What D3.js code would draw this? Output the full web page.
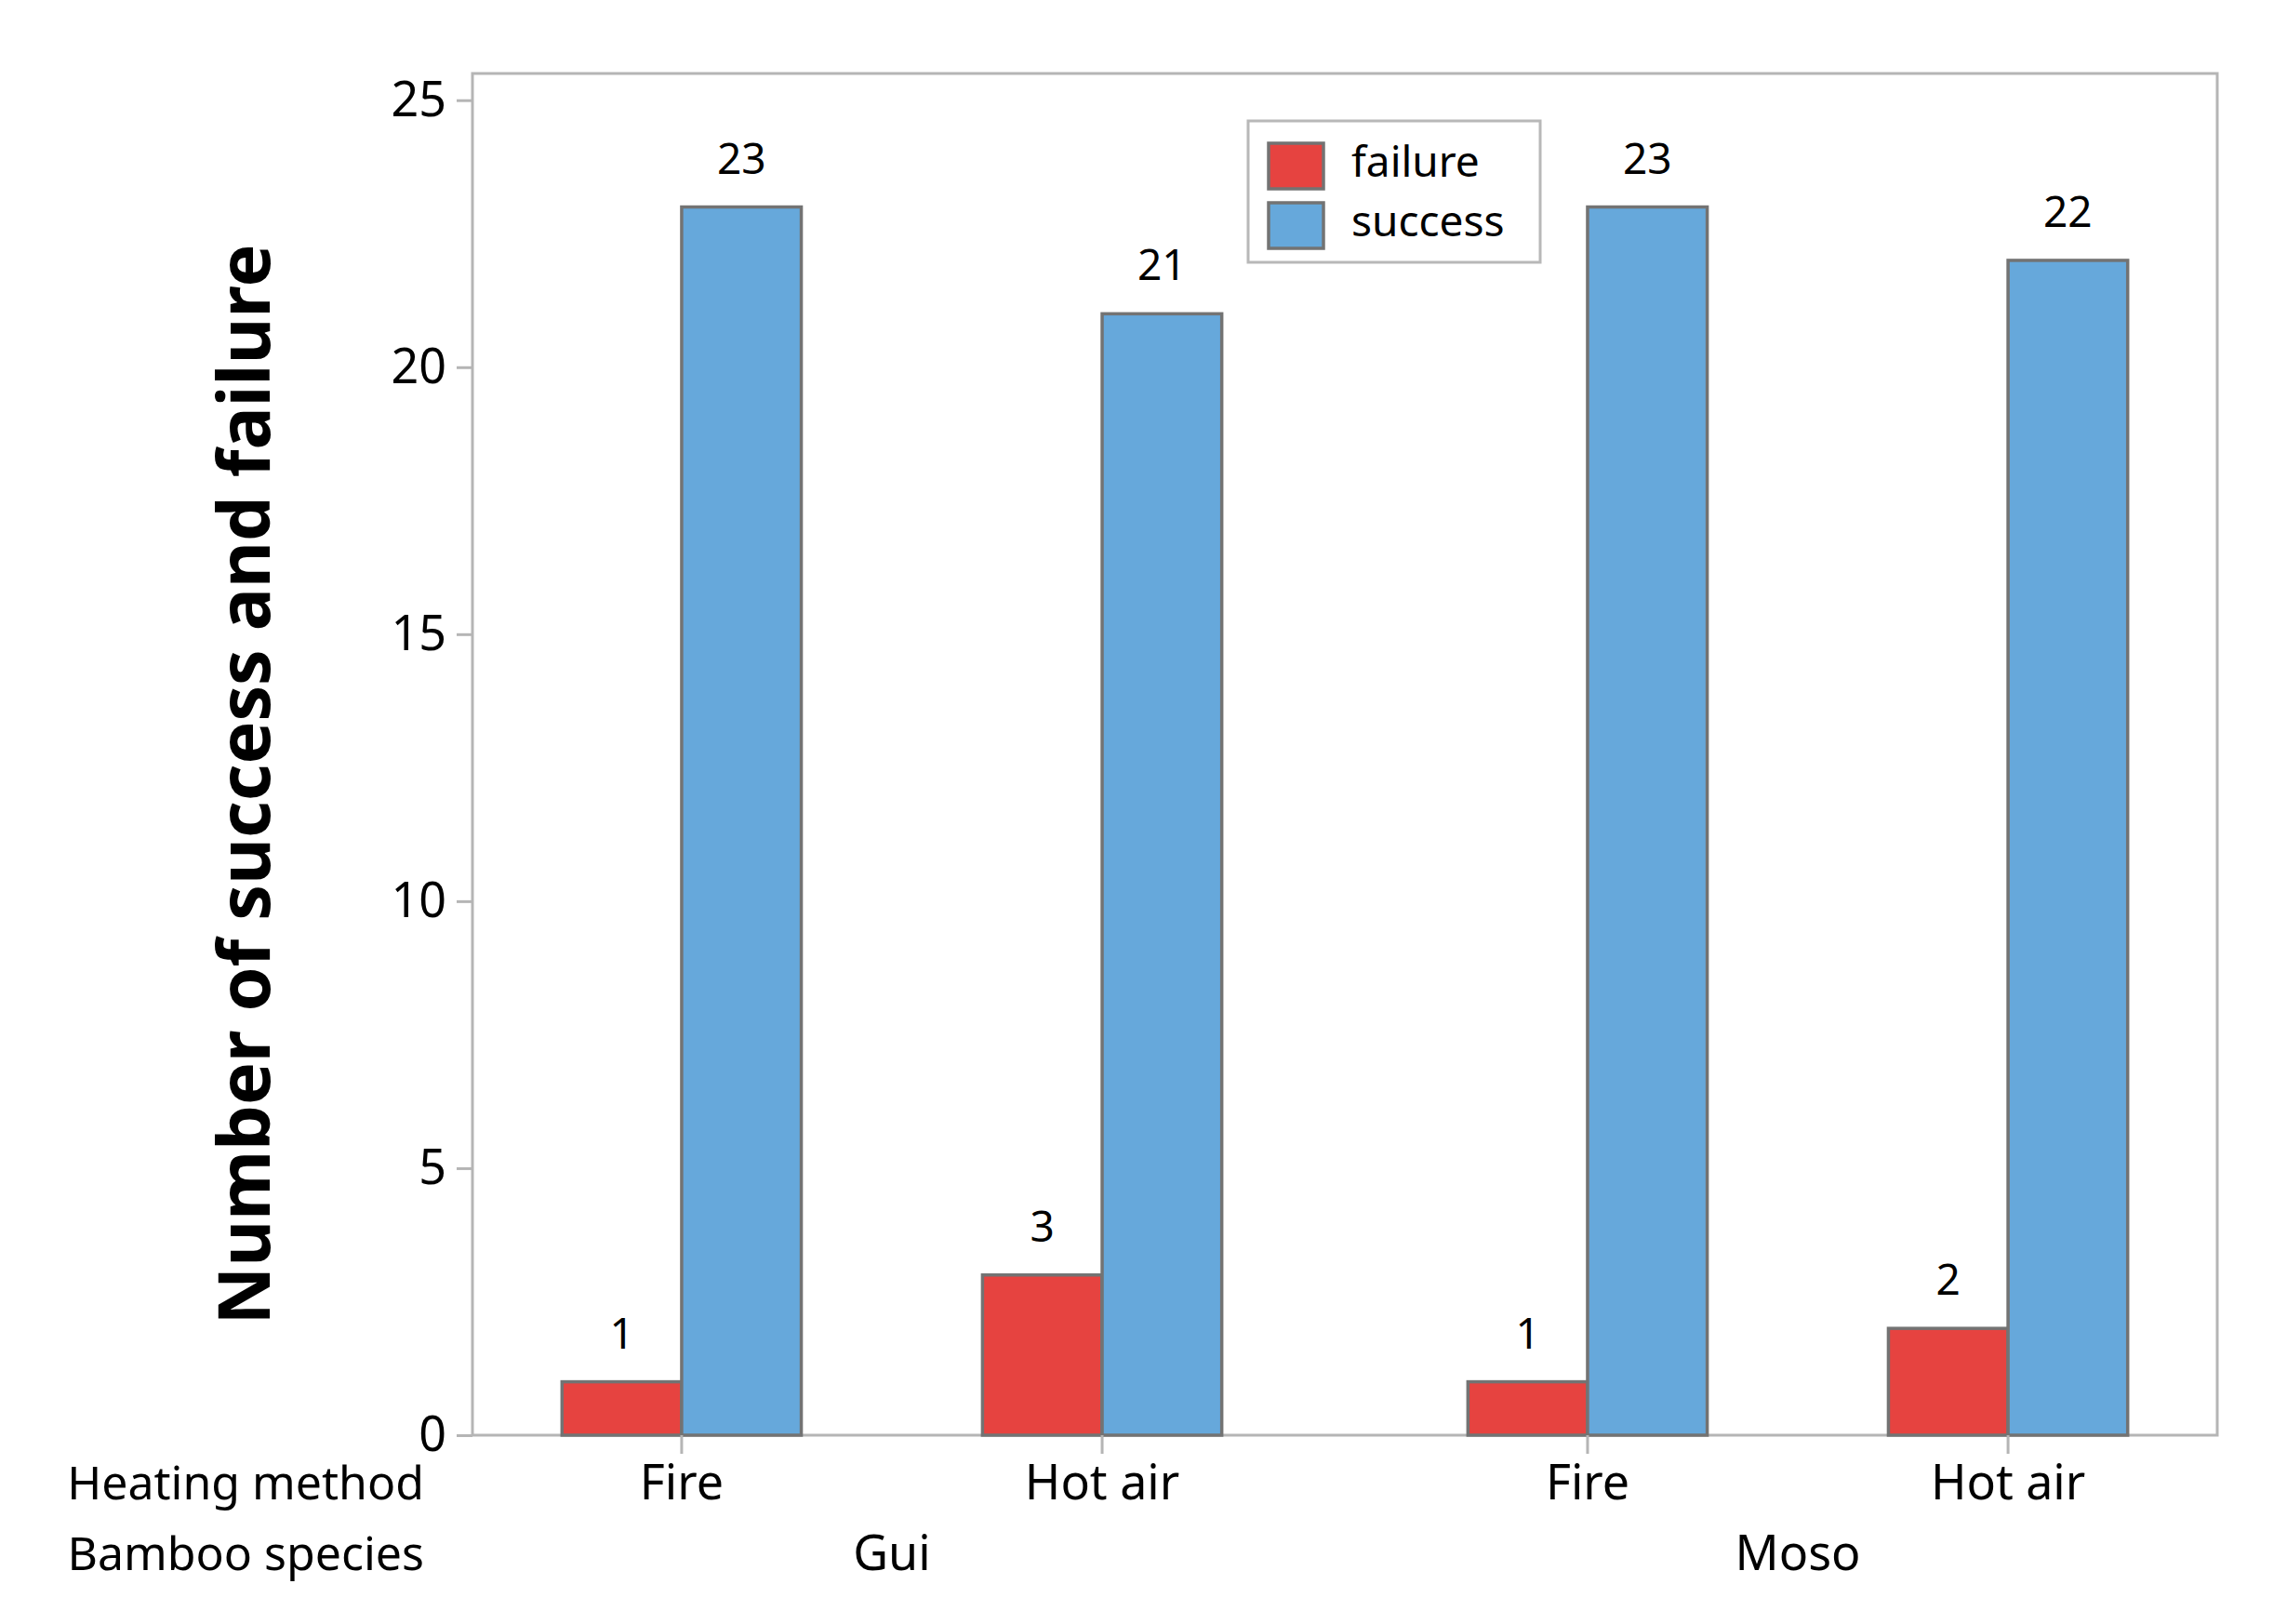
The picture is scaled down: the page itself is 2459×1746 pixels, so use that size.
<!DOCTYPE html>
<html>
<head>
<meta charset="utf-8">
<script src="https://cdn.jsdelivr.net/npm/d3@7"></script>
<style>
  body { margin: 0; background: #fff; }
  text { font-family: "Segoe UI", "Noto Sans", sans-serif; fill: #000; }
</style>
</head>
<body>
<svg id="chart"></svg>
<script>
// chart values
const species = ["Gui", "Moso"];
const methods = ["Fire", "Hot air"];
const seriesNames = ["failure", "success"];
const seriesColors = ["#e64340", "#66a8db"];
// order: Gui/Fire, Gui/Hot air, Moso/Fire, Moso/Hot air
const failureCounts = [1, 3, 1, 2];
const successCounts = [23, 21, 23, 22];
const yTicks = [0, 5, 10, 15, 20, 25];

const svgWidth = 2459, svgHeight = 1746;
const frame = { left: 508, right: 2384, top: 79, bottom: 1543 };

const svg = d3.select("#chart")
    .attr("width", svgWidth)
    .attr("height", svgHeight)
    .attr("viewBox", `0 0 ${svgWidth} ${svgHeight}`);

// build rows from the arrays
const rows = [];
species.forEach((sp, i) => {
    methods.forEach((m, j) => {
        const k = i * methods.length + j;
        rows.push({ species: sp, method: m, failure: failureCounts[k], success: successCounts[k] });
    });
});

// nested band scales: species -> method -> series
const xSpecies = d3.scaleBand()
    .domain(species)
    .range([frame.left, frame.right])
    .paddingInner(0.1)
    .paddingOuter(0.013);

const xMethod = d3.scaleBand()
    .domain(methods)
    .range([0, xSpecies.bandwidth()])
    .paddingInner(0.431)
    .paddingOuter(0.185);

const xSeries = d3.scaleBand()
    .domain(seriesNames)
    .range([0, xMethod.bandwidth()]);

const y = d3.scaleLinear()
    .domain([0, 25.5])
    .range([frame.bottom, frame.top]);

const color = d3.scaleOrdinal().domain(seriesNames).range(seriesColors);

// frame
svg.append("rect")
    .attr("x", frame.left)
    .attr("y", frame.top)
    .attr("width", frame.right - frame.left)
    .attr("height", frame.bottom - frame.top)
    .attr("fill", "none")
    .attr("stroke", "#b5b5b5")
    .attr("stroke-width", 3);

// y axis
const yAxis = svg.append("g")
    .attr("transform", `translate(${frame.left},0)`)
    .call(d3.axisLeft(y).tickValues(yTicks).tickSize(17).tickPadding(11));
yAxis.select(".domain").remove();
yAxis.selectAll(".tick line").attr("stroke", "#b5b5b5").attr("stroke-width", 3);
yAxis.selectAll(".tick text")
    .attr("font-size", 52)
    .attr("font-family", "'Segoe UI', 'Noto Sans', sans-serif")
    .attr("fill", "#000");

// y title
svg.append("text")
    .attr("transform", `translate(290,${(267 + 1420) / 2}) rotate(-90)`)
    .attr("text-anchor", "middle")
    .attr("font-size", 77)
    .attr("font-weight", "bold")
    .text("Number of success and failure");

// bars
const groups = svg.selectAll("g.species")
    .data(species)
    .join("g")
    .attr("class", "species")
    .attr("transform", d => `translate(${xSpecies(d)},0)`);

groups.each(function (sp) {
    const g = d3.select(this);
    const data = rows.filter(r => r.species === sp);

    const methodG = g.selectAll("g.method")
        .data(data)
        .join("g")
        .attr("class", "method")
        .attr("transform", d => `translate(${xMethod(d.method)},0)`);

    const bars = methodG.selectAll("g.bar")
        .data(d => seriesNames.map(s => ({ key: s, value: d[s] })))
        .join("g")
        .attr("class", "bar");

    bars.append("rect")
        .attr("x", d => xSeries(d.key))
        .attr("y", d => y(d.value))
        .attr("width", xSeries.bandwidth())
        .attr("height", d => y(0) - y(d.value))
        .attr("fill", d => color(d.key))
        .attr("stroke", "#737373")
        .attr("stroke-width", 3.5);

    bars.append("text")
        .attr("x", d => xSeries(d.key) + xSeries.bandwidth() / 2)
        .attr("y", d => y(d.value) - 36)
        .attr("text-anchor", "middle")
        .attr("font-size", 46)
        .text(d => d.value);

    // x axis for heating method
    const xa = g.append("g")
        .attr("transform", `translate(0,${frame.bottom})`)
        .call(d3.axisBottom(xMethod).tickSize(20).tickPadding(12));
    xa.select(".domain").remove();
    xa.selectAll(".tick line").attr("stroke", "#b5b5b5").attr("stroke-width", 3);
    xa.selectAll(".tick text")
        .attr("font-size", 52)
        .attr("font-family", "'Segoe UI', 'Noto Sans', sans-serif")
        .attr("fill", "#000");

    // species label
    g.append("text")
        .attr("x", xSpecies.bandwidth() / 2)
        .attr("y", 1688)
        .attr("text-anchor", "middle")
        .attr("font-size", 52)
        .text(sp);
});

// row labels for the two x levels
svg.append("text")
    .attr("x", 456).attr("y", 1612)
    .attr("text-anchor", "end")
    .attr("font-size", 50)
    .text("Heating method");
svg.append("text")
    .attr("x", 456).attr("y", 1688)
    .attr("text-anchor", "end")
    .attr("font-size", 50)
    .text("Bamboo species");

// legend
const legend = svg.append("g").attr("transform", "translate(1342,130)");
legend.append("rect")
    .attr("width", 314).attr("height", 152)
    .attr("fill", "#fff")
    .attr("stroke", "#b8b8b8")
    .attr("stroke-width", 3);

const items = legend.selectAll("g.item")
    .data(seriesNames)
    .join("g")
    .attr("class", "item")
    .attr("transform", (d, i) => `translate(22,${24 + i * 64})`);

items.append("rect")
    .attr("width", 59).attr("height", 49)
    .attr("fill", d => color(d))
    .attr("stroke", "#737373")
    .attr("stroke-width", 3.5);

items.append("text")
    .attr("x", 89).attr("y", 36)
    .attr("font-size", 46)
    .text(d => d);
</script>
</body>
</html>
